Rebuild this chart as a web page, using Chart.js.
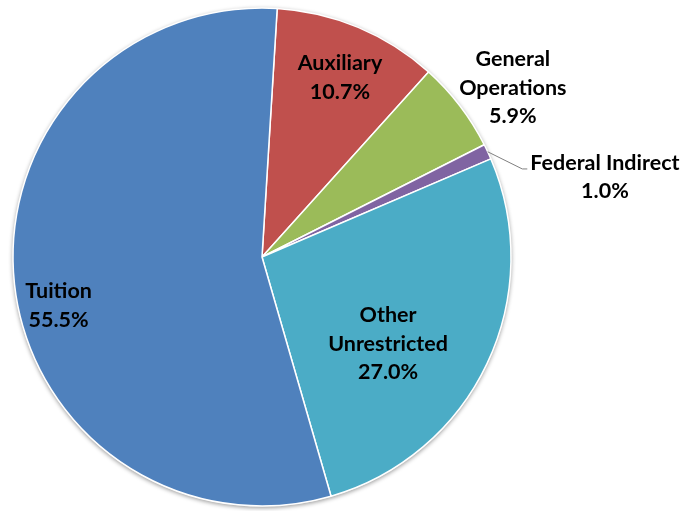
<!DOCTYPE html>
<html>
<head>
<meta charset="utf-8">
<script src="https://cdn.jsdelivr.net/npm/chart.js@4"></script>
<style>
  html, body { margin: 0; padding: 0; background: #fff; }
  #wrap { width: 688px; height: 511px; position: relative; }
</style>
</head>
<body>
<div id="wrap"><canvas id="revenueChart"></canvas></div>
<script>
// revenue sources, clockwise from the top
const categories = ["Auxiliary", "General Operations", "Federal Indirect", "Other Unrestricted", "Tuition"];
const shares = [10.7, 5.9, 1.0, 27.0, 55.5];
const labelLines = [["Auxiliary"], ["General", "Operations"], ["Federal Indirect"], ["Other", "Unrestricted"], ["Tuition"]];
const sliceColors = ["#C0504D", "#9BBB59", "#8064A2", "#4BACC6", "#4F81BD"];

// where each label block sits: [angle from top in degrees, fraction of radius]
const labelPlace = [[23.5, 0.785], [56, 1.215], [76.9, 1.414], [124.6, 0.615], [256.6, 0.84]];
const leaderFor = [false, false, true, false, false];

const FONT = "bold 21.5px Lato";
const LINE_H = 28.5;

// soft grey rim under the pie
const rimPlugin = {
  id: "rim",
  beforeDatasetsDraw(chart) {
    const arc = chart.getDatasetMeta(0).data[0];
    if (!arc) return;
    const { ctx } = chart;
    ctx.save();
    ctx.shadowColor = "rgba(0,0,0,0.4)";
    ctx.shadowBlur = 4;
    ctx.shadowOffsetY = 1.5;
    ctx.beginPath();
    ctx.arc(arc.x, arc.y, arc.outerRadius + 0.5, 0, Math.PI * 2);
    ctx.fillStyle = "#e0e0e0";
    ctx.fill();
    ctx.restore();
  }
};

// category name plus percentage, with a leader line for the thin slice
const labelPlugin = {
  id: "sliceLabels",
  afterDatasetsDraw(chart) {
    const { ctx } = chart;
    const meta = chart.getDatasetMeta(0);
    ctx.save();
    ctx.font = FONT;
    ctx.fillStyle = "#000";
    ctx.textAlign = "center";
    ctx.textBaseline = "middle";
    meta.data.forEach((arc, i) => {
      const r = arc.outerRadius;
      const [deg, frac] = labelPlace[i];
      const a = deg * Math.PI / 180;
      const cx = arc.x + Math.sin(a) * r * frac;
      const cy = arc.y - Math.cos(a) * r * frac;
      const lines = labelLines[i].concat([shares[i].toFixed(1) + "%"]);
      const top = cy - (lines.length - 1) * LINE_H / 2;
      lines.forEach((t, k) => ctx.fillText(t, cx, top + k * LINE_H));

      if (leaderFor[i]) {
        const mid = (arc.startAngle + arc.endAngle) / 2;
        const sx = arc.x + Math.cos(mid) * r;
        const sy = arc.y + Math.sin(mid) * r;
        const w = ctx.measureText(lines[0]).width;
        const ex = cx - w / 2 - 3;
        const ey = top + 6;
        ctx.beginPath();
        ctx.moveTo(sx, sy);
        ctx.lineTo(ex - 5, ey);
        ctx.lineTo(ex, ey);
        ctx.strokeStyle = "#7f7f7f";
        ctx.lineWidth = 1;
        ctx.stroke();
      }
    });
    ctx.restore();
  }
};

new Chart(document.getElementById("revenueChart"), {
  type: "pie",
  data: {
    labels: categories,
    datasets: [{
      data: shares,
      backgroundColor: sliceColors,
      borderColor: "#ffffff",
      borderWidth: 1.5
    }]
  },
  options: {
    responsive: true,
    maintainAspectRatio: false,
    animation: false,
    rotation: 3.5,
    radius: 249,
    layout: { padding: { left: 0, right: 164, top: 8, bottom: 5 } },
    plugins: {
      legend: { display: false },
      tooltip: { enabled: false }
    }
  },
  plugins: [rimPlugin, labelPlugin]
});
</script>
</body>
</html>
